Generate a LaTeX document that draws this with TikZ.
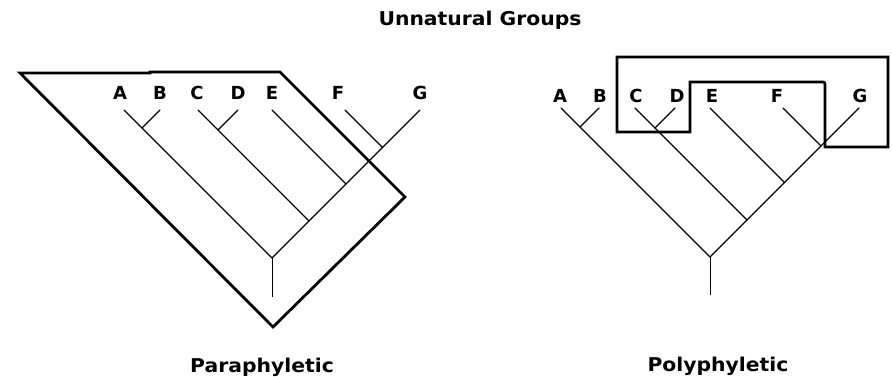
\documentclass[tikz,border=0pt]{standalone}
\usepackage{fontspec}
\newfontfamily\labfont{DejaVu Sans}
\tikzset{
  branch/.style={line width=1.4pt, line cap=round},
  stem/.style={line width=1pt},
  grp/.style={line width=2.8pt, line join=miter},
  taxon/.style={font=\labfont\bfseries\fontsize{18}{18}\selectfont, anchor=base, inner sep=0pt},
  caption/.style={font=\labfont\bfseries\fontsize{19}{19}\selectfont, anchor=base, inner sep=0pt, xscale=1.07}
}
\begin{document}
\begin{tikzpicture}[x=1pt,y=-1pt]
\useasboundingbox (0,0) rectangle (892,377);

% title and captions
\node[caption] (title) at (480,26) {Unnatural Groups};
\node[caption] (para) at (262,372) {Paraphyletic};
\node[caption] (poly) at (718,371) {Polyphyletic};

% ---------- left tree ----------
\coordinate (L0) at (272,297);
\coordinate (Lr) at (272,258);
\coordinate (LA) at (124,110);
\coordinate (LB) at (160,110);
\coordinate (LAB) at (142,128);
\coordinate (LC) at (198,110);
\coordinate (LCj) at (309,221);
\coordinate (LD) at (238,110);
\coordinate (LCD) at (218,130);
\coordinate (LE) at (272,110);
\coordinate (LEj) at (346,184);
\coordinate (LF) at (345,110);
\coordinate (LFj) at (382.5,147.5);
\coordinate (LG) at (420,110);

\draw[stem] (L0) -- (Lr);
\draw[branch] (Lr) -- (LA);
\draw[branch] (LAB) -- (LB);
\draw[branch] (Lr) -- (LG);
\draw[branch] (LCj) -- (LC);
\draw[branch] (LCD) -- (LD);
\draw[branch] (LEj) -- (LE);
\draw[branch] (LFj) -- (LF);

\node[taxon] (tLA) at (120,100) {A};
\node[taxon] (tLB) at (160,100) {B};
\node[taxon] (tLC) at (197,100) {C};
\node[taxon] (tLD) at (238,100) {D};
\node[taxon] (tLE) at (272,100) {E};
\node[taxon] (tLF) at (338,100) {F};
\node[taxon] (tLG) at (420,100) {G};

\draw[grp] (20,73) -- (150,73) -- (150,72) -- (280,72) -- (405,197) -- (273,327) -- cycle;

% ---------- right tree ----------
\coordinate (R0) at (710,295);
\coordinate (Rr) at (710,257);
\coordinate (RA) at (561,108);
\coordinate (RB) at (599,108);
\coordinate (RAB) at (580,127);
\coordinate (RC) at (635,108);
\coordinate (RCj) at (747,220);
\coordinate (RD) at (675,108);
\coordinate (RCD) at (655,128);
\coordinate (RE) at (710,108);
\coordinate (REj) at (784.5,182.5);
\coordinate (RF) at (783,108);
\coordinate (RFj) at (821,146);
\coordinate (RG) at (859,108);

\draw[stem] (R0) -- (Rr);
\draw[branch] (Rr) -- (RA);
\draw[branch] (RAB) -- (RB);
\draw[branch] (Rr) -- (RG);
\draw[branch] (RCj) -- (RC);
\draw[branch] (RCD) -- (RD);
\draw[branch] (REj) -- (RE);
\draw[branch] (RFj) -- (RF);

\node[taxon] (tRA) at (560,103) {A};
\node[taxon] (tRB) at (600,103) {B};
\node[taxon] (tRC) at (636,103) {C};
\node[taxon] (tRD) at (677,103) {D};
\node[taxon] (tRE) at (712,103) {E};
\node[taxon] (tRF) at (777,103) {F};
\node[taxon] (tRG) at (860,103) {G};

\draw[grp] (617,57) -- (888,57) -- (888,147) -- (825,147) -- (825,85)
  [rounded corners=2pt] -- (825,82) [sharp corners] -- (690,82) -- (690,132) -- (617,132) -- cycle;
\end{tikzpicture}
\end{document}
